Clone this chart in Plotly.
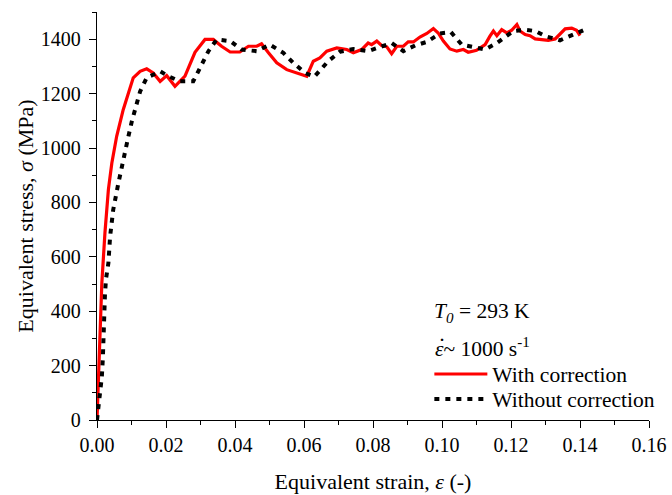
import plotly.graph_objects as go

# With correction (red solid)
strain_corr = [0, 0.0009, 0.0014, 0.0023, 0.0033, 0.0043, 0.0057, 0.0076, 0.0091, 0.0105,
               0.0125, 0.0144, 0.0163, 0.0183, 0.0202, 0.0226, 0.0255, 0.0270, 0.0284, 0.0313,
               0.0337, 0.0361, 0.0386, 0.0414, 0.0439, 0.0463, 0.0477, 0.0497, 0.0521, 0.0550,
               0.0579, 0.0608, 0.0627, 0.0646, 0.0666, 0.0695, 0.0724, 0.0743, 0.0767, 0.0786,
               0.0796, 0.0811, 0.0825, 0.0840, 0.0854, 0.0869, 0.0888, 0.0902, 0.0917, 0.0936,
               0.0956, 0.0975, 0.0989, 0.1004, 0.1023, 0.1043, 0.1062, 0.1076, 0.1100, 0.1125,
               0.1139, 0.1149, 0.1159, 0.1173, 0.1188, 0.1202, 0.1217, 0.1226, 0.1241, 0.1255,
               0.1270, 0.1289, 0.1308, 0.1328, 0.1342, 0.1357, 0.1376, 0.1390, 0.1400]
stress_corr = [0, 294, 503, 688, 847, 945, 1043, 1141, 1202, 1258,
               1282, 1291, 1276, 1245, 1266, 1227, 1264, 1313, 1352, 1399,
               1399, 1374, 1353, 1353, 1374, 1374, 1383, 1350, 1313, 1288,
               1276, 1264, 1319, 1331, 1356, 1368, 1362, 1350, 1362, 1386,
               1380, 1393, 1377, 1372, 1347, 1374, 1374, 1390, 1390, 1408,
               1421, 1439, 1423, 1393, 1364, 1356, 1362, 1352, 1359, 1380,
               1411, 1430, 1413, 1435, 1423, 1433, 1454, 1430, 1417, 1413,
               1401, 1398, 1396, 1401, 1417, 1438, 1441, 1433, 1413]

# Without correction (black dotted)
strain_raw = [0, 0.0009, 0.0014, 0.0017, 0.0018, 0.0019, 0.0021, 0.0023, 0.0026, 0.0033,
              0.0038, 0.0047, 0.0062, 0.0072, 0.0081, 0.0091, 0.0101, 0.0115, 0.0125, 0.0144,
              0.0183, 0.0207, 0.0241, 0.0279, 0.0301, 0.0323, 0.0347, 0.0386, 0.0419, 0.0463,
              0.0501, 0.0540, 0.0569, 0.0603, 0.0630, 0.0670, 0.0704, 0.0743, 0.0786, 0.0854,
              0.0888, 0.0922, 0.0956, 0.0994, 0.1026, 0.1057, 0.1125, 0.1159, 0.1207, 0.1241,
              0.1270, 0.1300, 0.1342, 0.1381, 0.1419]
stress_raw = [0, 86, 159, 228, 288, 341, 399, 460, 518, 577,
              675, 773, 871, 932, 994, 1043, 1098, 1159, 1208, 1258,
              1282, 1264, 1245, 1245, 1301, 1356, 1399, 1393, 1362, 1356,
              1380, 1350, 1313, 1276, 1262, 1319, 1354, 1364, 1356, 1386,
              1356, 1377, 1390, 1421, 1426, 1380, 1362, 1386, 1430, 1435,
              1430, 1411, 1396, 1417, 1438]

FONT = "Times New Roman"

fig = go.Figure()
fig.add_trace(go.Scatter(x=strain_corr, y=stress_corr, mode="lines", name="With correction",
                         line=dict(color="#FF0000", width=3.2), legend="legend"))
fig.add_trace(go.Scatter(x=strain_raw, y=stress_raw, mode="lines", name="Without correction",
                         line=dict(color="#000000", width=4, dash="5px,6px"), legend="legend2"))

axis_common = dict(showline=True, linecolor="black", linewidth=1.3, showgrid=False, zeroline=False,
                   ticks="outside", ticklen=7, tickwidth=1.3, tickcolor="black", automargin=False,
                   mirror=False, tickfont=dict(family=FONT, size=20, color="black"))

fig.update_xaxes(range=[0, 0.16], dtick=0.02, tick0=0, tickformat=".2f",
                 minor=dict(dtick=0.01, ticks="outside", ticklen=4, tickwidth=1.3, tickcolor="black"),
                 title=dict(text="Equivalent strain, <i>ε</i> (-)", font=dict(family=FONT, size=22, color="black"),
                            standoff=18),
                 **axis_common)
fig.update_yaxes(range=[0, 1500], dtick=200, tick0=0, ticklabelstandoff=4,
                 minor=dict(dtick=100, ticks="outside", ticklen=4, tickwidth=1.3, tickcolor="black"),
                 title=dict(text="Equivalent stress, <i>σ</i> (MPa)", font=dict(family=FONT, size=22, color="black"),
                            standoff=1),
                 **axis_common)

fig.add_annotation(x=0.0972, y=395, xref="x", yref="y", xanchor="left", yanchor="middle", showarrow=False,
                   text="<i>T<sub>0</sub></i> = 293 K", font=dict(family=FONT, size=21.5, color="black"))
fig.add_annotation(x=0.0975, y=265, xref="x", yref="y", xanchor="left", yanchor="middle", showarrow=False,
                   text="<i>ε</i>~ 1000 s<sup>-1</sup>", font=dict(family=FONT, size=21.5, color="black"))
# dot above epsilon (time derivative)
fig.add_annotation(x=0.1001, y=272, xref="x", yref="y", xanchor="center", yanchor="middle", showarrow=False,
                   text="˙", font=dict(family=FONT, size=24, color="black"))

leg_common = dict(xanchor="left", yanchor="middle", bgcolor="rgba(0,0,0,0)",
                  font=dict(family=FONT, size=21.5, color="black"), itemwidth=53)

fig.update_layout(
    width=672, height=495,
    margin=dict(l=97, r=22, t=12, b=75),
    paper_bgcolor="white", plot_bgcolor="white",
    showlegend=True,
    legend=dict(x=0.601, y=(420 - 374) / 408, **leg_common),
    legend2=dict(x=0.601, y=(420 - 399) / 408, **leg_common),
)

fig.write_html("out.html")
